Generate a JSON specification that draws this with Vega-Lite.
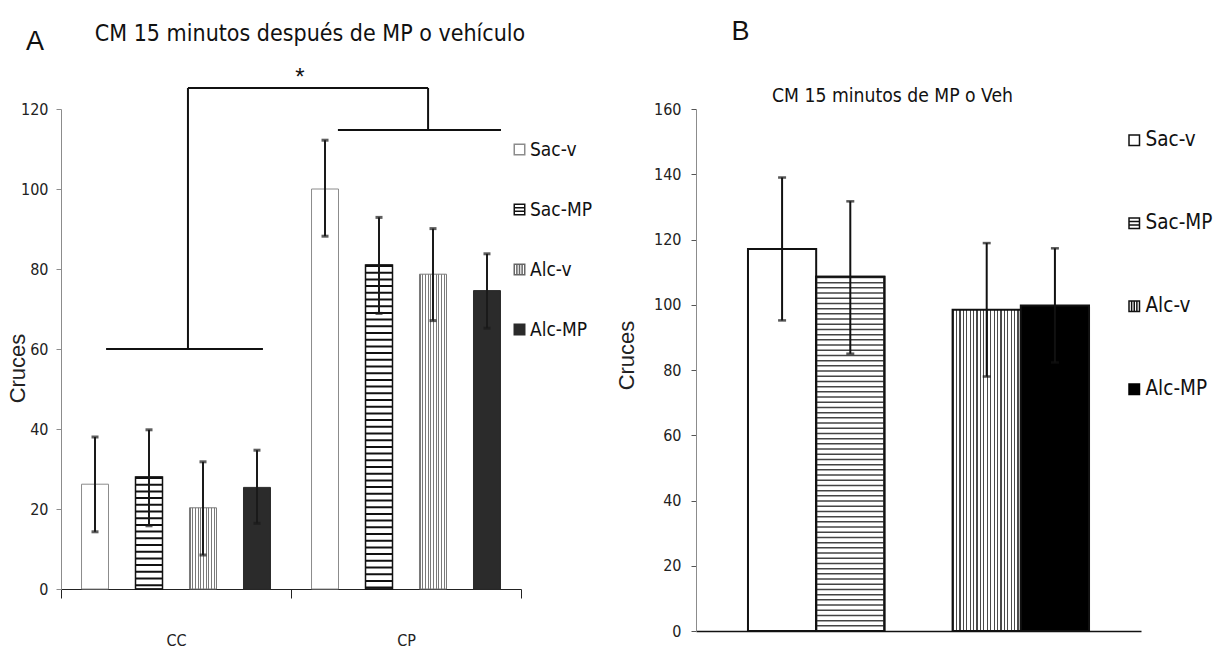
{
  "$schema": "https://vega.github.io/schema/vega-lite/v6.json",
  "padding": {"left": 6, "top": 18, "right": 0, "bottom": 0},
  "background": "#ffffff",
  "config": {
    "view": {"stroke": null},
    "axis": {
      "grid": false,
      "labelFont": "'Liberation Sans Narrow', 'DejaVu Sans Condensed', sans-serif",
      "labelColor": "#222222",
      "labelFontSize": 16,
      "titleFont": "'Liberation Sans', Arial, sans-serif",
      "titleFontWeight": "normal",
      "titleColor": "#222222",
      "titleFontSize": 22
    },
    "axisY": {"tickSize": 5, "labelPadding": 8, "domainColor": "#8c8c8c", "tickColor": "#8c8c8c", "titleAngle": 270, "titleAlign": "center", "titleBaseline": "middle"},
    "legend": {
      "title": null,
      "orient": "none",
      "symbolSize": 110,
      "symbolStrokeWidth": 1.5,
      "symbolOpacity": 1,
      "labelFont": "'Liberation Sans Narrow', 'DejaVu Sans Condensed', sans-serif",
      "labelColor": "#111111",
      "labelOffset": 1
    }
  },
  "datasets": {
    "prueba15": [
      {"prueba": "CC", "serie": "Sac-v", "media": 26.2, "li": 14.3, "ls": 38.0},
      {"prueba": "CC", "serie": "Sac-MP", "media": 28.0, "li": 15.8, "ls": 39.8},
      {"prueba": "CC", "serie": "Alc-v", "media": 20.3, "li": 8.5, "ls": 31.8},
      {"prueba": "CC", "serie": "Alc-MP", "media": 25.4, "li": 16.4, "ls": 34.7},
      {"prueba": "CP", "serie": "Sac-v", "media": 100.0, "li": 88.2, "ls": 112.2},
      {"prueba": "CP", "serie": "Sac-MP", "media": 81.0, "li": 68.9, "ls": 92.9},
      {"prueba": "CP", "serie": "Alc-v", "media": 78.7, "li": 67.1, "ls": 90.1},
      {"prueba": "CP", "serie": "Alc-MP", "media": 74.6, "li": 65.2, "ls": 83.8}
    ],
    "veh15": [
      {"sustancia": "Sac", "tratamiento": "v", "serie": "Sac-v", "media": 117.1, "li": 95.2, "ls": 139.0},
      {"sustancia": "Sac", "tratamiento": "MP", "serie": "Sac-MP", "media": 108.6, "li": 85.0, "ls": 131.7},
      {"sustancia": "Alc", "tratamiento": "v", "serie": "Alc-v", "media": 98.5, "li": 78.0, "ls": 118.9},
      {"sustancia": "Alc", "tratamiento": "MP", "serie": "Alc-MP", "media": 99.8, "li": 82.3, "ls": 117.3}
    ],
    "llaveA": [
      {"x": 0.196, "x2": 0.878, "y": 60, "y2": 60},
      {"x": 0.552, "x2": 0.552, "y": 60, "y2": 125.25},
      {"x": 0.552, "x2": 1.596, "y": 125.25, "y2": 125.25},
      {"x": 1.596, "x2": 1.596, "y": 125.25, "y2": 114.75},
      {"x": 1.204, "x2": 1.913, "y": 114.75, "y2": 114.75}
    ],
    "rotulosA": [
      {"x": 1.039, "y": 126.0, "texto": "*", "tam": 24},
      {"x": -0.113, "y": 134.75, "texto": "A", "tam": 27}
    ],
    "rotulosB": [
      {"x": 0.1, "y": 181.1, "texto": "B"}
    ]
  },
  "spacing": 23,
  "resolve": {
    "scale": {"x": "independent", "y": "independent", "xOffset": "independent", "fill": "independent", "stroke": "independent", "shape": "independent"},
    "legend": {"fill": "independent", "stroke": "independent", "shape": "independent"}
  },
  "hconcat": [
    {
      "width": 460,
      "height": 480,
      "title": {
        "text": "CM 15 minutos después de MP o vehículo",
        "font": "'Liberation Sans Narrow', 'DejaVu Sans Condensed', sans-serif",
        "fontSize": 23,
        "fontWeight": "normal",
        "color": "#111111",
        "anchor": "middle",
        "dx": 19,
        "offset": -18
      },
      "resolve": {"scale": {"x": "independent", "y": "independent"}},
      "layer": [
        {
          "data": {"name": "prueba15"},
          "encoding": {
            "x": {
              "field": "prueba",
              "type": "nominal",
              "scale": {"domain": ["CC", "CP"], "paddingInner": 0, "paddingOuter": 0},
              "axis": {
                "title": null,
                "labelAngle": 0,
                "tickBand": "extent",
                "tickSize": 9,
                "labelPadding": 34,
                "domainColor": "#222222",
                "tickColor": "#222222"
              }
            },
            "xOffset": {
              "field": "serie",
              "type": "nominal",
              "scale": {"domain": ["Sac-v", "Sac-MP", "Alc-v", "Alc-MP"], "paddingInner": 0.5, "paddingOuter": 0.38}
            }
          },
          "layer": [
            {
              "mark": {"type": "bar", "strokeWidth": 1},
              "encoding": {
                "y": {
                  "field": "media",
                  "type": "quantitative",
                  "scale": {"domain": [0, 120], "nice": false},
                  "axis": {"title": "Cruces", "values": [0, 20, 40, 60, 80, 100, 120], "titleX": -44, "titleY": 259}
                },
                "fill": {
                  "condition": [
                    {
                      "test": "datum.serie === 'Alc-v'",
                      "value": {
                        "gradient": "linear", "x1": 0, "y1": 0, "x2": 1, "y2": 0,
                        "stops": [
                          {"offset": 0, "color": "#7a7a7a"}, {"offset": 0.04, "color": "#7a7a7a"}, {"offset": 0.04, "color": "#ffffff"}, {"offset": 0.1, "color": "#ffffff"},
                          {"offset": 0.1, "color": "#7a7a7a"}, {"offset": 0.14, "color": "#7a7a7a"}, {"offset": 0.14, "color": "#ffffff"}, {"offset": 0.2, "color": "#ffffff"},
                          {"offset": 0.2, "color": "#7a7a7a"}, {"offset": 0.24, "color": "#7a7a7a"}, {"offset": 0.24, "color": "#ffffff"}, {"offset": 0.3, "color": "#ffffff"},
                          {"offset": 0.3, "color": "#7a7a7a"}, {"offset": 0.34, "color": "#7a7a7a"}, {"offset": 0.34, "color": "#ffffff"}, {"offset": 0.4, "color": "#ffffff"},
                          {"offset": 0.4, "color": "#7a7a7a"}, {"offset": 0.44, "color": "#7a7a7a"}, {"offset": 0.44, "color": "#ffffff"}, {"offset": 0.5, "color": "#ffffff"},
                          {"offset": 0.5, "color": "#7a7a7a"}, {"offset": 0.54, "color": "#7a7a7a"}, {"offset": 0.54, "color": "#ffffff"}, {"offset": 0.6, "color": "#ffffff"},
                          {"offset": 0.6, "color": "#7a7a7a"}, {"offset": 0.64, "color": "#7a7a7a"}, {"offset": 0.64, "color": "#ffffff"}, {"offset": 0.7, "color": "#ffffff"},
                          {"offset": 0.7, "color": "#7a7a7a"}, {"offset": 0.74, "color": "#7a7a7a"}, {"offset": 0.74, "color": "#ffffff"}, {"offset": 0.8, "color": "#ffffff"},
                          {"offset": 0.8, "color": "#7a7a7a"}, {"offset": 0.84, "color": "#7a7a7a"}, {"offset": 0.84, "color": "#ffffff"}, {"offset": 0.9, "color": "#ffffff"},
                          {"offset": 0.9, "color": "#7a7a7a"}, {"offset": 0.94, "color": "#7a7a7a"}, {"offset": 0.94, "color": "#ffffff"}, {"offset": 1, "color": "#ffffff"}
                        ]
                      }
                    },
                    {"test": "datum.serie === 'Alc-MP'", "value": "#2b2b2b"}
                  ],
                  "value": "#ffffff"
                },
                "stroke": {
                  "condition": [
                    {"test": "datum.serie === 'Sac-MP'", "value": "#111111"},
                    {"test": "datum.serie === 'Alc-v'", "value": "#7a7a7a"},
                    {"test": "datum.serie === 'Alc-MP'", "value": "#2b2b2b"}
                  ],
                  "value": "#8c8c8c"
                }
              }
            },
            {
              "transform": [{"filter": "datum.serie === 'Sac-MP'"}],
              "mark": {"type": "rule", "strokeWidth": 27, "strokeDash": [2, 4.7], "color": "#111111", "strokeCap": "butt"},
              "encoding": {
                "y": {"field": "media", "type": "quantitative", "scale": {"domain": [0, 120], "nice": false}, "axis": {"title": "Cruces", "values": [0, 20, 40, 60, 80, 100, 120], "titleX": -44, "titleY": 259}},
                "y2": {"datum": 0}
              }
            },
            {
              "transform": [{"filter": "datum.serie === 'Sac-MP'"}],
              "mark": {"type": "bar", "fill": "#ffffff", "fillOpacity": 0, "stroke": "#111111", "strokeWidth": 1.5},
              "encoding": {
                "y": {"field": "media", "type": "quantitative", "scale": {"domain": [0, 120], "nice": false}, "axis": {"title": "Cruces", "values": [0, 20, 40, 60, 80, 100, 120], "titleX": -44, "titleY": 259}}
              }
            },
            {
              "mark": {"type": "rule", "color": "#1a1a1a", "strokeWidth": 2},
              "encoding": {
                "y": {"field": "li", "type": "quantitative", "scale": {"domain": [0, 120], "nice": false}, "axis": {"title": "Cruces", "values": [0, 20, 40, 60, 80, 100, 120], "titleX": -44, "titleY": 259}},
                "y2": {"field": "ls"}
              }
            },
            {
              "mark": {"type": "tick", "color": "#1a1a1a", "size": 7, "thickness": 3},
              "encoding": {
                "y": {"field": "li", "type": "quantitative", "scale": {"domain": [0, 120], "nice": false}, "axis": {"title": "Cruces", "values": [0, 20, 40, 60, 80, 100, 120], "titleX": -44, "titleY": 259}}
              }
            },
            {
              "mark": {"type": "tick", "color": "#1a1a1a", "size": 7, "thickness": 3},
              "encoding": {
                "y": {"field": "ls", "type": "quantitative", "scale": {"domain": [0, 120], "nice": false}, "axis": {"title": "Cruces", "values": [0, 20, 40, 60, 80, 100, 120], "titleX": -44, "titleY": 259}}
              }
            },
            {
              "mark": {"type": "point", "opacity": 0, "filled": true, "strokeWidth": 1.5},
              "encoding": {
                "y": {"field": "media", "type": "quantitative", "scale": {"domain": [0, 120], "nice": false}, "axis": {"title": "Cruces", "values": [0, 20, 40, 60, 80, 100, 120], "titleX": -44, "titleY": 259}},
                "fill": {
                  "field": "serie", "type": "nominal",
                  "scale": {"domain": ["Sac-v", "Sac-MP", "Alc-v", "Alc-MP"], "range": ["#ffffff", "#ffffff", "#ffffff", "#2b2b2b"]},
                  "legend": {"legendX": 449, "legendY": 31, "labelFontSize": 19, "rowPadding": 40}
                },
                "stroke": {
                  "field": "serie", "type": "nominal",
                  "scale": {"domain": ["Sac-v", "Sac-MP", "Alc-v", "Alc-MP"], "range": ["#8c8c8c", "#111111", "#666666", "#2b2b2b"]},
                  "legend": {"legendX": 449, "legendY": 31, "labelFontSize": 19, "rowPadding": 40}
                },
                "shape": {
                  "field": "serie", "type": "nominal",
                  "scale": {"domain": ["Sac-v", "Sac-MP", "Alc-v", "Alc-MP"], "range": ["square", "M-1,-1H1V1H-1Z M-1,-0.35H1 M-1,0.35H1", "M-1,-1H1V1H-1Z M-0.5,-1V1 M0,-1V1 M0.5,-1V1", "square"]},
                  "legend": {"legendX": 449, "legendY": 31, "labelFontSize": 19, "rowPadding": 40}
                }
              }
            }
          ]
        },
        {
          "layer": [
            {
              "data": {"name": "llaveA"},
              "mark": {"type": "rule", "color": "#111111", "strokeWidth": 2},
              "encoding": {
                "x": {"field": "x", "type": "quantitative", "scale": {"domain": [0, 2], "nice": false, "zero": false}, "axis": null},
                "x2": {"field": "x2"},
                "y": {"field": "y", "type": "quantitative", "scale": {"domain": [0, 120], "nice": false}, "axis": null},
                "y2": {"field": "y2"}
              }
            },
            {
              "data": {"name": "rotulosA"},
              "mark": {"type": "text", "font": "'Liberation Sans', Arial, sans-serif", "color": "#111111", "align": "center", "baseline": "alphabetic"},
              "encoding": {
                "x": {"field": "x", "type": "quantitative", "scale": {"domain": [0, 2], "nice": false, "zero": false}, "axis": null},
                "y": {"field": "y", "type": "quantitative", "scale": {"domain": [0, 120], "nice": false}, "axis": null},
                "size": {"field": "tam", "type": "quantitative", "scale": null},
                "text": {"field": "texto"}
              }
            }
          ]
        }
      ]
    },
    {
      "width": 445,
      "height": 522,
      "title": {
        "text": "CM 15 minutos de MP o Veh",
        "font": "'Liberation Sans Narrow', 'DejaVu Sans Condensed', sans-serif",
        "fontSize": 19.2,
        "fontWeight": "normal",
        "color": "#111111",
        "anchor": "middle",
        "dx": -26,
        "offset": -88
      },
      "resolve": {"scale": {"x": "independent", "y": "independent"}},
      "layer": [
        {
          "data": {"name": "veh15"},
          "encoding": {
            "x": {
              "field": "sustancia",
              "type": "nominal",
              "scale": {"domain": ["Sac", "Alc"], "paddingInner": 0.3333, "paddingOuter": 0.254},
              "axis": {"title": null, "labels": false, "ticks": false, "domainColor": "#111111", "domainWidth": 1.5}
            },
            "xOffset": {
              "field": "tratamiento",
              "type": "nominal",
              "scale": {"domain": ["v", "MP"], "paddingInner": 0, "paddingOuter": 0}
            }
          },
          "layer": [
            {
              "mark": {"type": "bar", "strokeWidth": 2},
              "encoding": {
                "y": {
                  "field": "media",
                  "type": "quantitative",
                  "scale": {"domain": [0, 160], "nice": false},
                  "axis": {"title": "Cruces", "values": [0, 20, 40, 60, 80, 100, 120, 140, 160], "titleX": -70, "titleY": 246, "labelPadding": 10, "tickColor": "#555555"}
                },
                "fill": {
                  "condition": [
                    {
                      "test": "datum.serie === 'Alc-v'",
                      "value": {
                        "gradient": "linear", "x1": 0, "y1": 0, "x2": 1, "y2": 0,
                        "stops": [
                          {"offset": 0, "color": "#4a4a4a"}, {"offset": 0.0175, "color": "#4a4a4a"}, {"offset": 0.0175, "color": "#ffffff"}, {"offset": 0.05, "color": "#ffffff"},
                          {"offset": 0.05, "color": "#4a4a4a"}, {"offset": 0.0675, "color": "#4a4a4a"}, {"offset": 0.0675, "color": "#ffffff"}, {"offset": 0.1, "color": "#ffffff"},
                          {"offset": 0.1, "color": "#4a4a4a"}, {"offset": 0.1175, "color": "#4a4a4a"}, {"offset": 0.1175, "color": "#ffffff"}, {"offset": 0.15, "color": "#ffffff"},
                          {"offset": 0.15, "color": "#4a4a4a"}, {"offset": 0.1675, "color": "#4a4a4a"}, {"offset": 0.1675, "color": "#ffffff"}, {"offset": 0.2, "color": "#ffffff"},
                          {"offset": 0.2, "color": "#4a4a4a"}, {"offset": 0.2175, "color": "#4a4a4a"}, {"offset": 0.2175, "color": "#ffffff"}, {"offset": 0.25, "color": "#ffffff"},
                          {"offset": 0.25, "color": "#4a4a4a"}, {"offset": 0.2675, "color": "#4a4a4a"}, {"offset": 0.2675, "color": "#ffffff"}, {"offset": 0.3, "color": "#ffffff"},
                          {"offset": 0.3, "color": "#4a4a4a"}, {"offset": 0.3175, "color": "#4a4a4a"}, {"offset": 0.3175, "color": "#ffffff"}, {"offset": 0.35, "color": "#ffffff"},
                          {"offset": 0.35, "color": "#4a4a4a"}, {"offset": 0.3675, "color": "#4a4a4a"}, {"offset": 0.3675, "color": "#ffffff"}, {"offset": 0.4, "color": "#ffffff"},
                          {"offset": 0.4, "color": "#4a4a4a"}, {"offset": 0.4175, "color": "#4a4a4a"}, {"offset": 0.4175, "color": "#ffffff"}, {"offset": 0.45, "color": "#ffffff"},
                          {"offset": 0.45, "color": "#4a4a4a"}, {"offset": 0.4675, "color": "#4a4a4a"}, {"offset": 0.4675, "color": "#ffffff"}, {"offset": 0.5, "color": "#ffffff"},
                          {"offset": 0.5, "color": "#4a4a4a"}, {"offset": 0.5175, "color": "#4a4a4a"}, {"offset": 0.5175, "color": "#ffffff"}, {"offset": 0.55, "color": "#ffffff"},
                          {"offset": 0.55, "color": "#4a4a4a"}, {"offset": 0.5675, "color": "#4a4a4a"}, {"offset": 0.5675, "color": "#ffffff"}, {"offset": 0.6, "color": "#ffffff"},
                          {"offset": 0.6, "color": "#4a4a4a"}, {"offset": 0.6175, "color": "#4a4a4a"}, {"offset": 0.6175, "color": "#ffffff"}, {"offset": 0.65, "color": "#ffffff"},
                          {"offset": 0.65, "color": "#4a4a4a"}, {"offset": 0.6675, "color": "#4a4a4a"}, {"offset": 0.6675, "color": "#ffffff"}, {"offset": 0.7, "color": "#ffffff"},
                          {"offset": 0.7, "color": "#4a4a4a"}, {"offset": 0.7175, "color": "#4a4a4a"}, {"offset": 0.7175, "color": "#ffffff"}, {"offset": 0.75, "color": "#ffffff"},
                          {"offset": 0.75, "color": "#4a4a4a"}, {"offset": 0.7675, "color": "#4a4a4a"}, {"offset": 0.7675, "color": "#ffffff"}, {"offset": 0.8, "color": "#ffffff"},
                          {"offset": 0.8, "color": "#4a4a4a"}, {"offset": 0.8175, "color": "#4a4a4a"}, {"offset": 0.8175, "color": "#ffffff"}, {"offset": 0.85, "color": "#ffffff"},
                          {"offset": 0.85, "color": "#4a4a4a"}, {"offset": 0.8675, "color": "#4a4a4a"}, {"offset": 0.8675, "color": "#ffffff"}, {"offset": 0.9, "color": "#ffffff"},
                          {"offset": 0.9, "color": "#4a4a4a"}, {"offset": 0.9175, "color": "#4a4a4a"}, {"offset": 0.9175, "color": "#ffffff"}, {"offset": 0.95, "color": "#ffffff"},
                          {"offset": 0.95, "color": "#4a4a4a"}, {"offset": 0.9675, "color": "#4a4a4a"}, {"offset": 0.9675, "color": "#ffffff"}, {"offset": 1, "color": "#ffffff"}
                        ]
                      }
                    },
                    {"test": "datum.serie === 'Alc-MP'", "value": "#000000"}
                  ],
                  "value": "#ffffff"
                },
                "stroke": {"value": "#111111"}
              }
            },
            {
              "transform": [{"filter": "datum.serie === 'Sac-MP'"}],
              "mark": {"type": "rule", "strokeWidth": 68.2, "strokeDash": [1.5, 3.7], "color": "#444444", "strokeCap": "butt"},
              "encoding": {
                "y": {"field": "media", "type": "quantitative", "scale": {"domain": [0, 160], "nice": false}, "axis": {"title": "Cruces", "values": [0, 20, 40, 60, 80, 100, 120, 140, 160], "titleX": -70, "titleY": 246, "labelPadding": 10, "tickColor": "#555555"}},
                "y2": {"datum": 0}
              }
            },
            {
              "transform": [{"filter": "datum.serie === 'Sac-MP'"}],
              "mark": {"type": "bar", "fill": "#ffffff", "fillOpacity": 0, "stroke": "#111111", "strokeWidth": 2},
              "encoding": {
                "y": {"field": "media", "type": "quantitative", "scale": {"domain": [0, 160], "nice": false}, "axis": {"title": "Cruces", "values": [0, 20, 40, 60, 80, 100, 120, 140, 160], "titleX": -70, "titleY": 246, "labelPadding": 10, "tickColor": "#555555"}}
              }
            },
            {
              "mark": {"type": "rule", "color": "#111111", "strokeWidth": 2},
              "encoding": {
                "y": {"field": "li", "type": "quantitative", "scale": {"domain": [0, 160], "nice": false}, "axis": {"title": "Cruces", "values": [0, 20, 40, 60, 80, 100, 120, 140, 160], "titleX": -70, "titleY": 246, "labelPadding": 10, "tickColor": "#555555"}},
                "y2": {"field": "ls"}
              }
            },
            {
              "mark": {"type": "tick", "color": "#111111", "size": 8, "thickness": 2.5},
              "encoding": {
                "y": {"field": "li", "type": "quantitative", "scale": {"domain": [0, 160], "nice": false}, "axis": {"title": "Cruces", "values": [0, 20, 40, 60, 80, 100, 120, 140, 160], "titleX": -70, "titleY": 246, "labelPadding": 10, "tickColor": "#555555"}}
              }
            },
            {
              "mark": {"type": "tick", "color": "#111111", "size": 8, "thickness": 2.5},
              "encoding": {
                "y": {"field": "ls", "type": "quantitative", "scale": {"domain": [0, 160], "nice": false}, "axis": {"title": "Cruces", "values": [0, 20, 40, 60, 80, 100, 120, 140, 160], "titleX": -70, "titleY": 246, "labelPadding": 10, "tickColor": "#555555"}}
              }
            },
            {
              "mark": {"type": "point", "opacity": 0, "filled": true, "strokeWidth": 1.5},
              "encoding": {
                "y": {"field": "media", "type": "quantitative", "scale": {"domain": [0, 160], "nice": false}, "axis": {"title": "Cruces", "values": [0, 20, 40, 60, 80, 100, 120, 140, 160], "titleX": -70, "titleY": 246, "labelPadding": 10, "tickColor": "#555555"}},
                "fill": {
                  "field": "serie", "type": "nominal",
                  "scale": {"domain": ["Sac-v", "Sac-MP", "Alc-v", "Alc-MP"], "range": ["#ffffff", "#ffffff", "#ffffff", "#000000"]},
                  "legend": {"legendX": 428, "legendY": 21, "labelFontSize": 20.5, "rowPadding": 62}
                },
                "stroke": {
                  "field": "serie", "type": "nominal",
                  "scale": {"domain": ["Sac-v", "Sac-MP", "Alc-v", "Alc-MP"], "range": ["#111111", "#111111", "#111111", "#000000"]},
                  "legend": {"legendX": 428, "legendY": 21, "labelFontSize": 20.5, "rowPadding": 62}
                },
                "shape": {
                  "field": "serie", "type": "nominal",
                  "scale": {"domain": ["Sac-v", "Sac-MP", "Alc-v", "Alc-MP"], "range": ["square", "M-1,-1H1V1H-1Z M-1,-0.35H1 M-1,0.35H1", "M-1,-1H1V1H-1Z M-0.5,-1V1 M0,-1V1 M0.5,-1V1", "square"]},
                  "legend": {"legendX": 428, "legendY": 21, "labelFontSize": 20.5, "rowPadding": 62}
                }
              }
            }
          ]
        },
        {
          "data": {"name": "rotulosB"},
          "mark": {"type": "text", "font": "'Liberation Sans', Arial, sans-serif", "fontSize": 27, "color": "#111111", "align": "center", "baseline": "alphabetic"},
          "encoding": {
            "x": {"field": "x", "type": "quantitative", "scale": {"domain": [0, 1], "nice": false, "zero": false}, "axis": null},
            "y": {"field": "y", "type": "quantitative", "scale": {"domain": [0, 160], "nice": false}, "axis": null},
            "text": {"field": "texto"}
          }
        }
      ]
    }
  ]
}
